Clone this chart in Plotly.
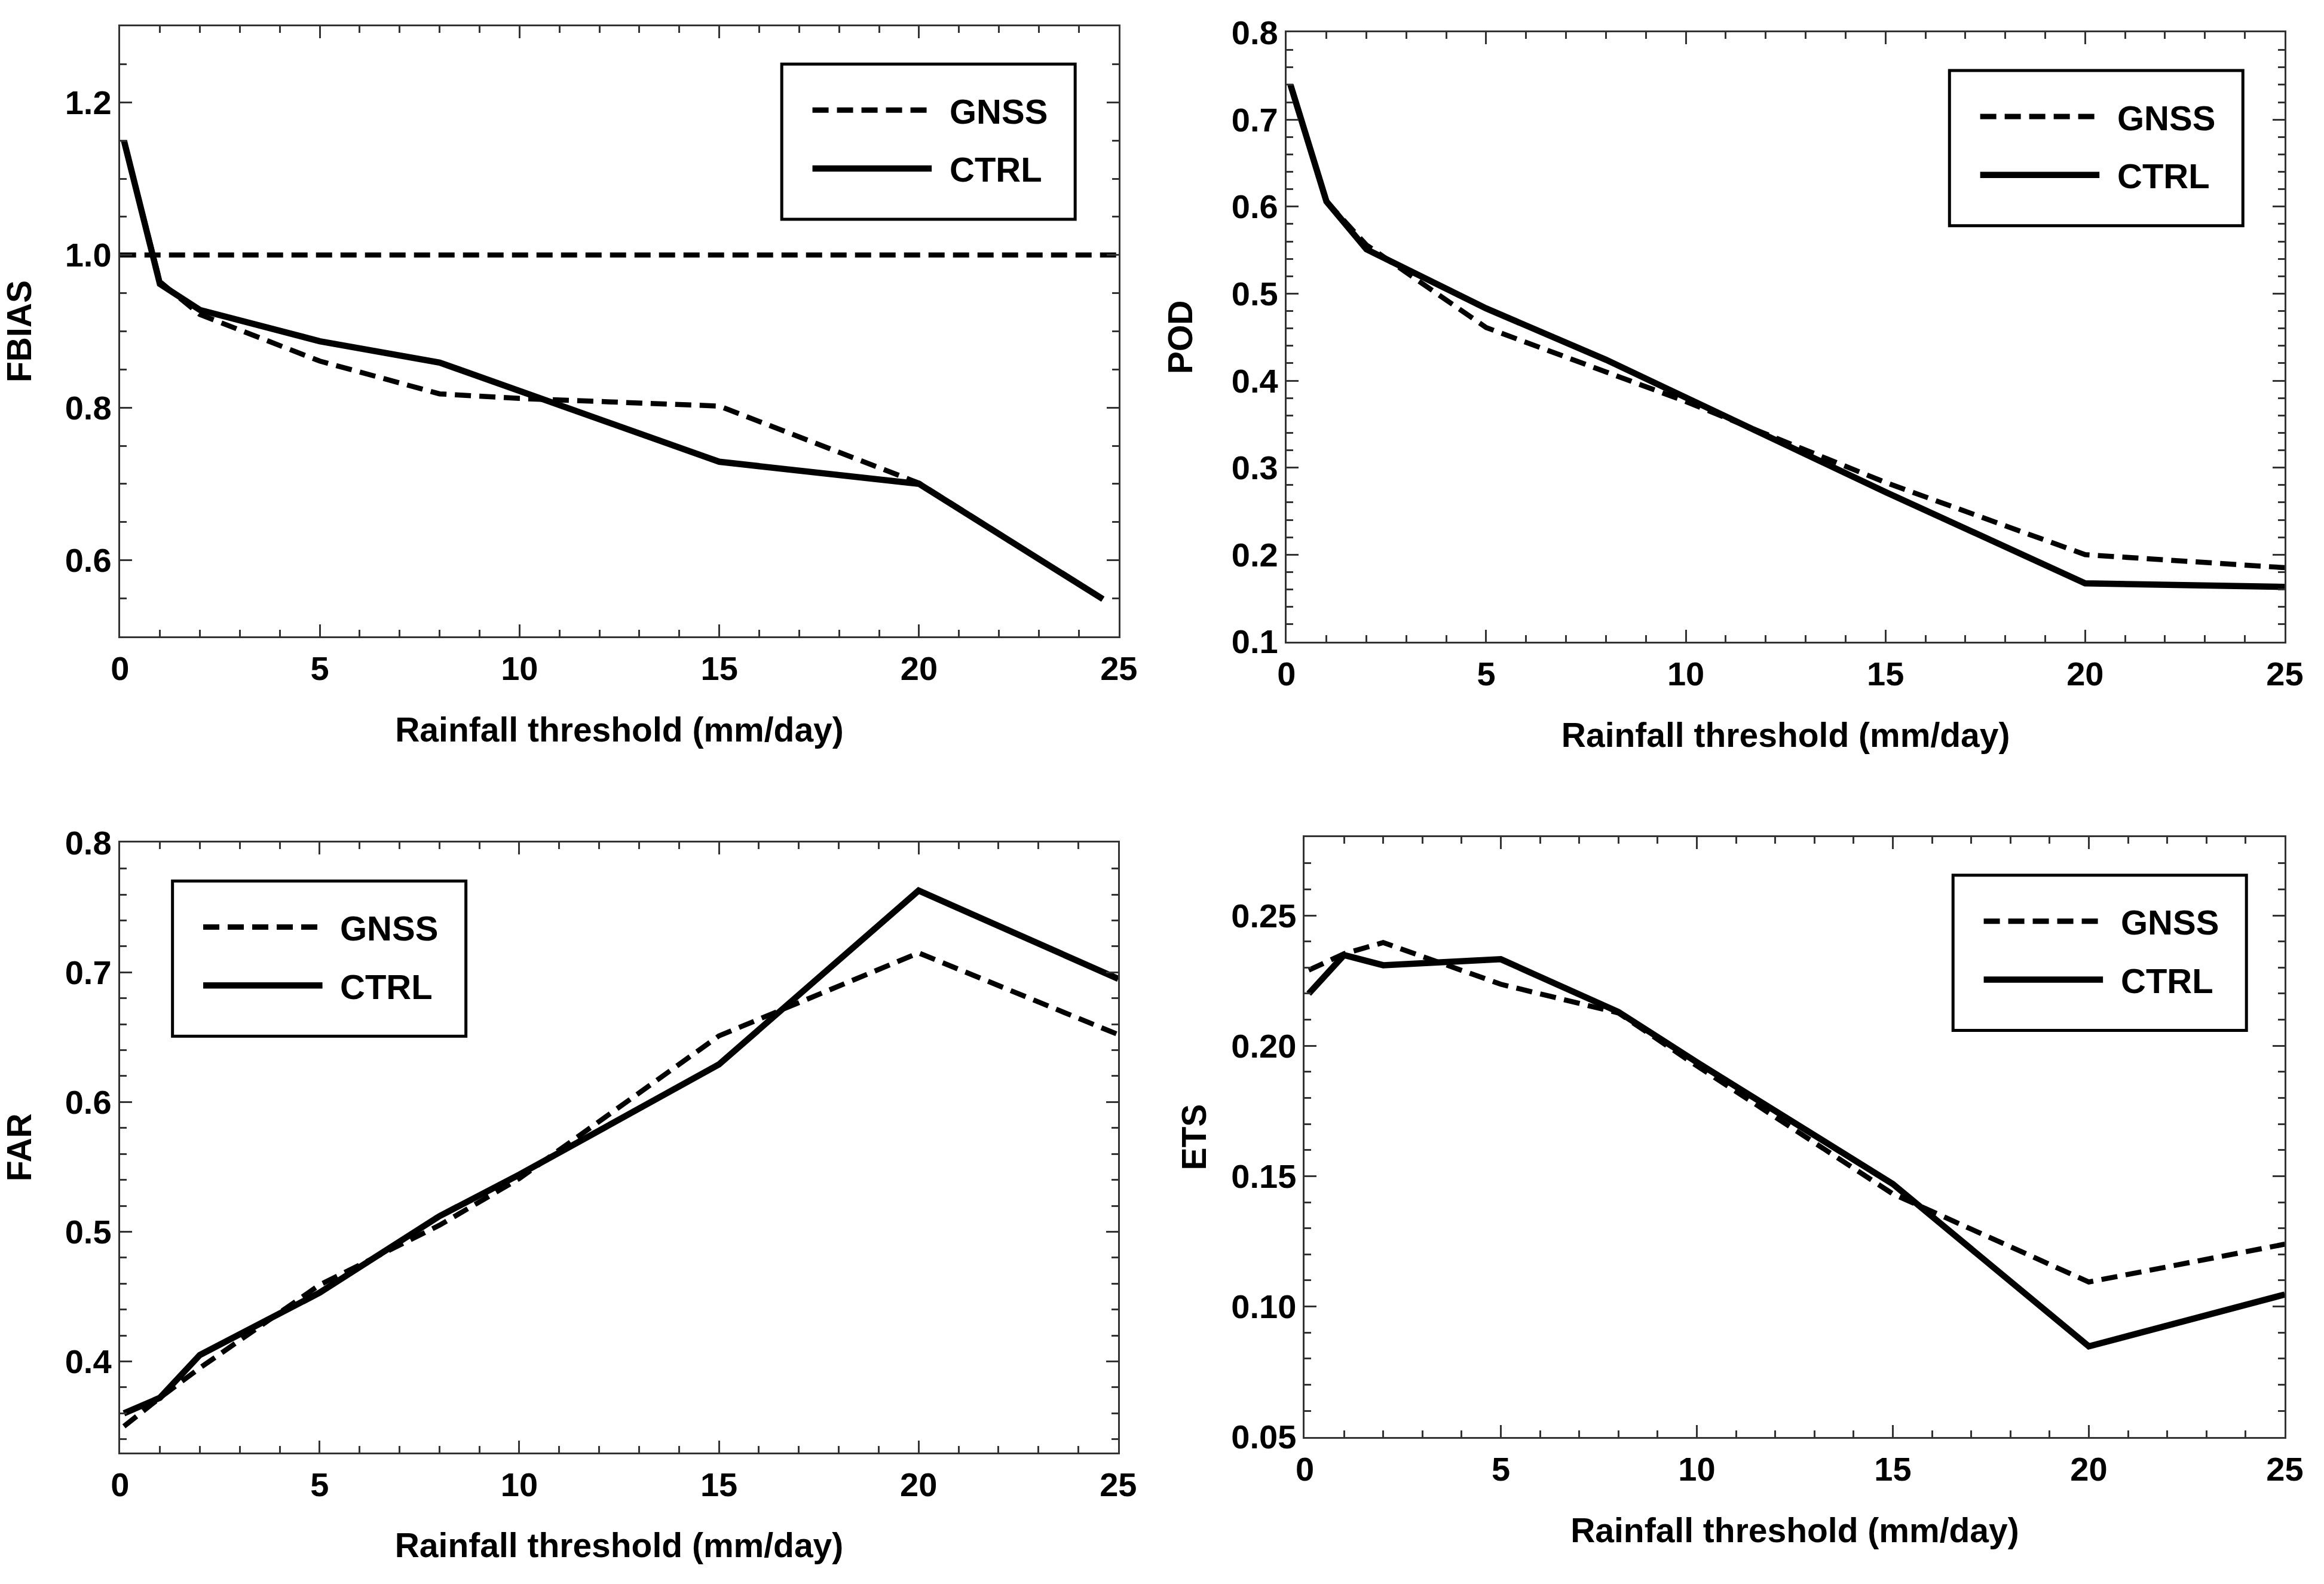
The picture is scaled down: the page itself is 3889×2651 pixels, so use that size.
import plotly.graph_objects as go

# ---------------- data ----------------
thresholds = [0.1, 1, 2, 5, 8, 10, 15, 20, 25]
fbias_thresholds = [0.1, 1, 2, 5, 8, 10, 15, 20, 24.6]

fbias_gnss = [1.150, 0.965, 0.922, 0.861, 0.818, 0.812, 0.802, 0.701, 0.549]
fbias_ctrl = [1.150, 0.962, 0.928, 0.887, 0.859, 0.822, 0.729, 0.700, 0.549]
fbias_ref_x = [0, 25]
fbias_ref_y = [1.0, 1.0]

pod_gnss = [0.740, 0.606, 0.556, 0.461, 0.410, 0.376, 0.283, 0.200, 0.185]
pod_ctrl = [0.740, 0.606, 0.551, 0.483, 0.424, 0.381, 0.272, 0.167, 0.163]

far_gnss = [0.350, 0.372, 0.395, 0.459, 0.505, 0.541, 0.651, 0.715, 0.652]
far_ctrl = [0.360, 0.372, 0.405, 0.453, 0.512, 0.544, 0.629, 0.763, 0.695]

ets_gnss = [0.229, 0.2353, 0.2396, 0.2236, 0.2126, 0.1923, 0.1432, 0.1094, 0.1239]
ets_ctrl = [0.220, 0.2348, 0.2309, 0.2332, 0.2130, 0.1937, 0.1470, 0.0847, 0.1046]

series_names = ["GNSS", "CTRL"]
x_title = "Rainfall threshold (mm/day)"
y_titles = ["FBIAS", "POD", "FAR", "ETS"]

# ---------------- layout geometry (pixels of the 3889x2651 page) ----------------
W, H = 3889, 2651
def fx(px):
    return px / W
def fy(py):
    return 1 - py / H

FONT = "Liberation Sans, Arial, sans-serif"
INK = "black"
AX = "#333333"

panels = [
    dict(xd=(187, 1879), yd=(13, 1059), yr=(0.5, 1.3), dt=0.2, mdt=0.05, fmt=".1f",
         leg=(1308, 78), ytstand=49),
    dict(xd=(2163, 3854), yd=(24, 1068), yr=(0.0999, 0.8001), dt=0.1, mdt=0.02, fmt=".1f",
         leg=(3286, 89), ytstand=47),
    dict(xd=(187, 1878), yd=(1412, 2457), yr=(0.33, 0.8001), dt=0.1, mdt=0.02, fmt=".1f",
         leg=(276, 1478), ytstand=49),
    dict(xd=(2194, 3854), yd=(1403, 2431), yr=(0.0499, 0.28), dt=0.05, mdt=0.01, fmt=".2f",
         leg=(3292, 1468), ytstand=24),
]

gnss_line = dict(color=INK, width=8.5, dash="27px,14px")
ctrl_line = dict(color=INK, width=10.5)

fig = go.Figure()

data_sets = [
    (fbias_thresholds, fbias_gnss, fbias_ctrl),
    (thresholds, pod_gnss, pod_ctrl),
    (thresholds, far_gnss, far_ctrl),
    (thresholds, ets_gnss, ets_ctrl),
]

for i, (xs, g, c) in enumerate(data_sets):
    ax_id = "" if i == 0 else str(i + 1)
    fig.add_trace(go.Scatter(x=xs, y=g, mode="lines", name=series_names[0], line=gnss_line,
                             xaxis="x" + ax_id, yaxis="y" + ax_id, showlegend=False))
    fig.add_trace(go.Scatter(x=xs, y=c, mode="lines", name=series_names[1], line=ctrl_line,
                             xaxis="x" + ax_id, yaxis="y" + ax_id, showlegend=False))
    if i == 0:
        fig.add_trace(go.Scatter(x=fbias_ref_x, y=fbias_ref_y, mode="lines", name="FBIAS = 1",
                                 line=gnss_line, xaxis="x", yaxis="y", showlegend=False))

tick_font = dict(family=FONT, size=56, color=INK, weight="bold")
title_font = dict(family=FONT, size=57, color=INK, weight="bold")
legend_font = dict(family=FONT, size=58, color=INK, weight="bold")

layout = dict(
    width=W, height=H,
    margin=dict(l=0, r=0, t=0, b=0),
    paper_bgcolor="white", plot_bgcolor="white",
    showlegend=False,
    shapes=[], annotations=[],
)

common = dict(
    showline=True, linecolor=AX, linewidth=3, mirror="ticks",
    ticks="inside", ticklen=20, tickwidth=2.5, tickcolor=AX,
    showgrid=False, zeroline=False, tickfont=tick_font,
)

for i, p in enumerate(panels):
    ax_id = "" if i == 0 else str(i + 1)
    xa = dict(common)
    xa.update(
        domain=[fx(p["xd"][0]), fx(p["xd"][1])],
        anchor="y" + ax_id,
        range=[0, 25], tickmode="linear", tick0=0, dtick=5,
        minor=dict(ticks="inside", ticklen=11, tickwidth=2.5, tickcolor=AX, dtick=1, showgrid=False),
        ticklabelstandoff=3,
        title=dict(text=x_title, font=title_font, standoff=52),
    )
    ya = dict(common)
    ya.update(
        domain=[fy(p["yd"][1]), fy(p["yd"][0])],
        anchor="x" + ax_id,
        range=list(p["yr"]), tickmode="linear", tick0=0, dtick=p["dt"], tickformat=p["fmt"],
        minor=dict(ticks="inside", ticklen=11, tickwidth=2.5, tickcolor=AX, dtick=p["mdt"], showgrid=False),
        ticklabelstandoff=0,
        title=dict(text=y_titles[i], font=title_font, standoff=p["ytstand"]),
    )
    layout["xaxis" + ax_id] = xa
    layout["yaxis" + ax_id] = ya

    # legend box for this panel
    L, T = p["leg"]
    BW, BH = 497, 266
    layout["shapes"].append(dict(type="rect", xref="paper", yref="paper",
                                 x0=fx(L), x1=fx(L + BW), y0=fy(T + BH), y1=fy(T),
                                 line=dict(color=INK, width=5), fillcolor="white", layer="above"))
    rows = [(T + 79, gnss_line, series_names[0], 9), (T + 179, ctrl_line, series_names[1], 10.5)]
    for (ry, ln, nm, lw) in rows:
        layout["shapes"].append(dict(type="line", xref="paper", yref="paper",
                                     x0=fx(L + 52), x1=fx(L + 254), y0=fy(ry), y1=fy(ry),
                                     line=dict(color=INK, width=lw, dash=ln.get("dash", "solid")),
                                     layer="above"))
        layout["annotations"].append(dict(xref="paper", yref="paper", x=fx(L + 282), y=fy(ry + 2),
                                          xanchor="left", yanchor="middle", showarrow=False,
                                          text=nm, font=legend_font))

fig.update_layout(**layout)
fig.write_html("out.html", config={"displayModeBar": False},
               post_script="document.body.style.margin='0px';")
